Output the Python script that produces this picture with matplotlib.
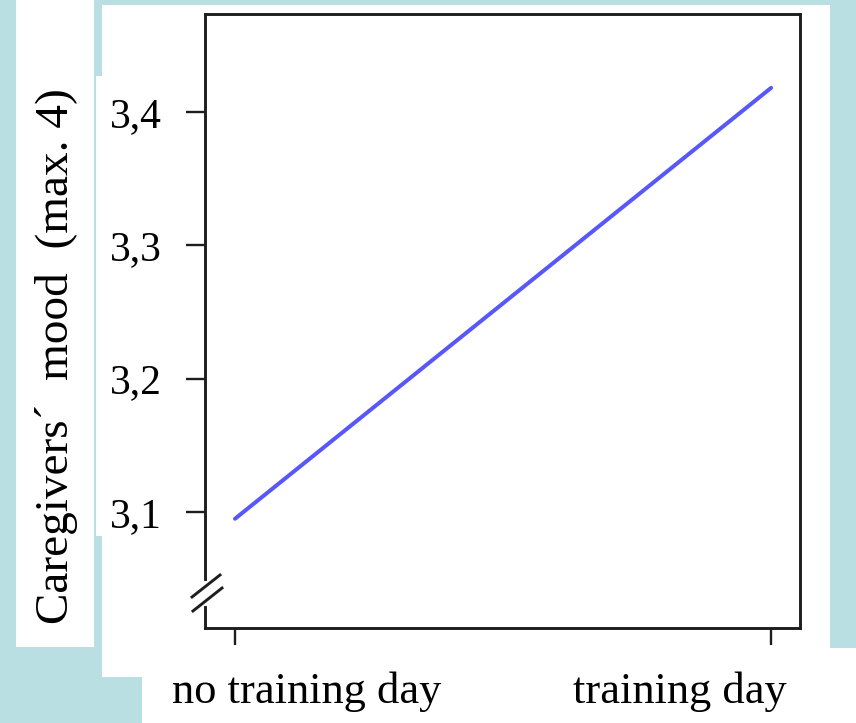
import matplotlib.pyplot as plt
from matplotlib.patches import Rectangle

# estimated means per condition
conditions = ['no training day', 'training day']
mood = [3.095, 3.418]
yticks = [3.1, 3.2, 3.3, 3.4]
ytick_labels = ['3,1', '3,2', '3,3', '3,4']
ylabel = 'Caregivers\u00b4  mood  (max. 4)'

W, H = 856, 723
fig = plt.figure(figsize=(W / 100, H / 100), dpi=100)
fig.patch.set_facecolor('#badfe2')
plt.rcParams['font.family'] = ['Liberation Serif', 'DejaVu Serif']


def px_rect(x0, y0, x1, y1):
    # rectangle given in pixels from the top-left corner
    fig.patches.append(Rectangle((x0 / W, 1 - y1 / H), (x1 - x0) / W, (y1 - y0) / H,
                                 transform=fig.transFigure, facecolor='white',
                                 edgecolor='none', zorder=-1))


px_rect(16, 0, 94, 647)
px_rect(96, 76, 102, 536)
px_rect(102, 5, 830, 648)
px_rect(102, 648, 856, 677)
px_rect(142, 677, 856, 723)

ax = fig.add_axes([205 / W, 1 - 628 / H, 595 / W, 614 / H])
ax.patch.set_alpha(0)

x = list(range(len(conditions)))
ax.plot(x, mood, color='#5858f8', lw=2.9, solid_capstyle='round')

ax.set_xlim(-0.056, 1.054)
ax.set_ylim(3.0131, 3.4734)
ax.set_yticks(yticks)
ax.set_yticklabels(ytick_labels)
ax.set_xticks(x)
ax.set_xticklabels([])

dark = '#1e1e1e'
for s in ['top', 'right', 'bottom']:
    ax.spines[s].set_color(dark)
    ax.spines[s].set_linewidth(2.1)
ax.spines['left'].set_visible(False)

ax.tick_params(axis='y', length=14, width=1.7, color=dark, pad=17,
               labelsize=30)
ax.tick_params(axis='x', length=12.5, width=1.7, color=dark)

# left spine with a break near the bottom
k = dict(transform=ax.transAxes, clip_on=False, color=dark, lw=2.1)
ax.plot([0, 0], [0.0798, 1], **k)
ax.plot([0, 0], [0, 0.034], **k)
ax.plot([-0.0218, 0.0252], [0.0505, 0.0863], **k)
ax.plot([-0.0202, 0.0286], [0.0277, 0.0651], **k)

fig.text(57 / W, 1 - 356 / H, ylabel, rotation=90, ha='center', va='center',
         fontsize=34)
for cx, lab in zip([307, 680], conditions):
    fig.text(cx / W, 1 - 692 / H, lab, ha='center', va='center', fontsize=32)

fig.savefig('out.png', dpi=100, facecolor=fig.get_facecolor())
